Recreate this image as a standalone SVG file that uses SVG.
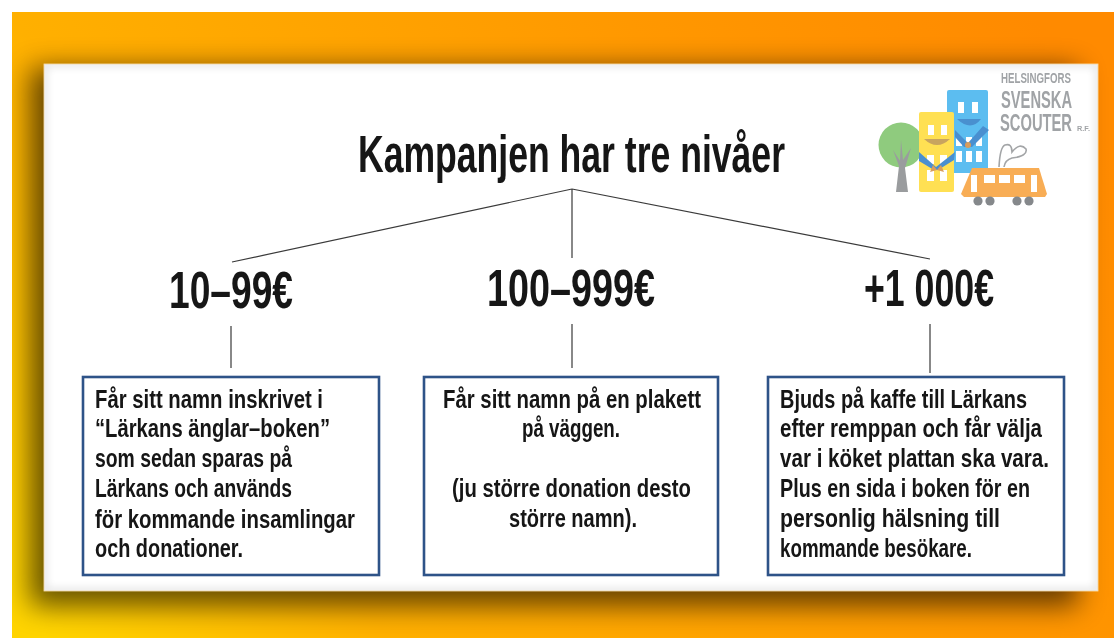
<svg xmlns="http://www.w3.org/2000/svg" width="1114" height="638" viewBox="0 0 1114 638">
<style>
text{font-family:"Liberation Sans Narrow","Liberation Sans",Arial,sans-serif;font-weight:700;fill:#141414;}
.t{font-size:26px;}
.h{font-size:51px;}
.c{stroke:#3a3a3a;stroke-width:1.2;fill:none;}
.b{fill:#fff;stroke:#2f5288;stroke-width:2.6;}
.g{fill:#a0a3a6;}
</style>
<defs>
<linearGradient id="bg" gradientUnits="userSpaceOnUse" x1="60" y1="660" x2="1060" y2="60">
<stop offset="0" stop-color="#ffd400"/><stop offset=".25" stop-color="#ffb000"/><stop offset=".7" stop-color="#ff9800"/><stop offset="1" stop-color="#ff8a00"/>
</linearGradient>
<filter id="sh" filterUnits="userSpaceOnUse" x="0" y="0" width="1114" height="638"><feGaussianBlur stdDeviation="14"/></filter>
<filter id="in" filterUnits="userSpaceOnUse" x="0" y="0" width="1114" height="638"><feGaussianBlur stdDeviation="4"/></filter>
<filter id="bl" filterUnits="userSpaceOnUse" x="0" y="0" width="1114" height="638"><feGaussianBlur stdDeviation="0.7"/></filter>
<filter id="s1" filterUnits="userSpaceOnUse" x="0" y="0" width="1114" height="638"><feGaussianBlur stdDeviation="0.45"/></filter>
<clipPath id="cc"><rect x="44" y="64" width="1054" height="527"/></clipPath>
<clipPath id="pg"><rect x="12" y="12" width="1102" height="626"/></clipPath>
</defs>
<rect width="1114" height="638" fill="#fff"/>
<rect x="12" y="12" width="1102" height="626" fill="url(#bg)"/>
<g id="card">
<g clip-path="url(#pg)"><rect x="30" y="68" width="1048" height="538" fill="#000" opacity=".6" filter="url(#sh)"/></g>
<rect x="44" y="64" width="1054" height="527" fill="#fff" stroke="#ffe3b0" stroke-width=".8"/>
<g clip-path="url(#cc)"><rect x="44" y="64" width="1054" height="527" fill="none" stroke="#000" stroke-width="4" opacity=".16" filter="url(#in)"/></g>
</g>
<g id="logo" filter="url(#bl)">
<circle cx="901" cy="145" r="22.5" fill="#8fcb7e"/>
<path d="M896 192L899 166L893 150L900 161L901 140L903 160L911 148L905 168L908 192Z" fill="#9a9c9e"/>
<rect x="947" y="90" width="41" height="83" rx="2" fill="#5cbdf0"/>
<rect x="919" y="112" width="35" height="80" rx="2" fill="#ffe053"/>
<g fill="#fff">
<rect x="958" y="102" width="6" height="11"/><rect x="972" y="102" width="6" height="11"/>
<rect x="956" y="137" width="6" height="9"/><rect x="966" y="137" width="6" height="9"/><rect x="976" y="137" width="6" height="9"/>
<rect x="956" y="151" width="6" height="11"/><rect x="966" y="151" width="6" height="11"/><rect x="976" y="151" width="6" height="11"/>
<rect x="928" y="125" width="6" height="10"/><rect x="941" y="125" width="6" height="10"/>
<rect x="927" y="155" width="7" height="9"/><rect x="940" y="155" width="7" height="9"/>
<rect x="927" y="170" width="7" height="11"/><rect x="940" y="170" width="7" height="11"/>
</g>
<path d="M957 119Q971 132 981 119Z" fill="#4a90cf"/>
<path d="M924 139Q937 151 950 139Z" fill="#c8a45f"/>
<path d="M955 130L968 143L983 126L989 130L972 147L964 147L955 137Z" fill="#4a8fd0"/>
<circle cx="968" cy="145" r="3" fill="#d99d5b"/>
<path d="M919 152L936 167L955 152L954 160L938 170L934 170L919 161Z" fill="#4a8fd0"/>
<path d="M933 165L937 170L941 165L944 172L937 170L930 172Z" fill="#d99d5b"/>
<path d="M999 167Q1000 147 1005 145Q1012 143 1012 152Q1020 142 1026 149Q1028 156 1012 158Q1005 160 1004 167" fill="none" stroke="#a3a5a7" stroke-width="1.6"/>
<path d="M972 168H1039L1047 194L1045 197H964L961 194Z" fill="#f8ad55"/>
<g fill="#fff">
<rect x="971" y="175" width="6" height="17"/><rect x="984" y="175" width="11" height="8"/><rect x="999" y="175" width="11" height="8"/><rect x="1014" y="175" width="11" height="8"/><rect x="1031" y="175" width="6" height="17"/>
</g>
<g fill="#85888b"><circle cx="978" cy="201" r="4.6"/><circle cx="990" cy="201" r="4.6"/><circle cx="1017" cy="201" r="4.6"/><circle cx="1029" cy="201" r="4.6"/></g>
</g>
<g id="logo-text" filter="url(#s1)">
<text class="g" x="1001" y="83" font-size="14" textLength="70" lengthAdjust="spacingAndGlyphs">HELSINGFORS</text>
<text class="g" x="1001" y="108" font-size="23" textLength="71" lengthAdjust="spacingAndGlyphs">SVENSKA</text>
<text class="g" x="1000" y="131" font-size="23" textLength="72" lengthAdjust="spacingAndGlyphs">SCOUTER</text>
<text class="g" x="1077" y="131" font-size="7" textLength="13" lengthAdjust="spacingAndGlyphs">R.F.</text>
</g>
<g id="connectors">
<path class="c" d="M572 189L232 262M572 189V258M572 189L930 259"/>
<path class="c" d="M231 326V368M572 324V368M930 324V373"/>
</g>
<g filter="url(#s1)">
<g id="title"><text class="h" x="358" y="172" textLength="427" lengthAdjust="spacingAndGlyphs">Kampanjen har tre nivåer</text></g>
<g id="level-1"><text class="h" x="169" y="308" textLength="124" lengthAdjust="spacingAndGlyphs">10–99€</text></g>
<g id="level-2"><text class="h" x="487" y="306" textLength="168" lengthAdjust="spacingAndGlyphs">100–999€</text></g>
<g id="level-3"><text class="h" x="864" y="306" textLength="130" lengthAdjust="spacingAndGlyphs">+1 000€</text></g>
<g id="box-1">
<rect class="b" x="83" y="377" width="296" height="198"/>
<text class="t" x="95" y="408" textLength="228" lengthAdjust="spacingAndGlyphs">Får sitt namn inskrivet i</text>
<text class="t" x="95" y="437" textLength="235" lengthAdjust="spacingAndGlyphs">“Lärkans änglar–boken”</text>
<text class="t" x="95" y="467" textLength="197" lengthAdjust="spacingAndGlyphs">som sedan sparas på</text>
<text class="t" x="95" y="497" textLength="197" lengthAdjust="spacingAndGlyphs">Lärkans och används</text>
<text class="t" x="95" y="528" textLength="260" lengthAdjust="spacingAndGlyphs">för kommande insamlingar</text>
<text class="t" x="95" y="557" textLength="148" lengthAdjust="spacingAndGlyphs">och donationer.</text>
</g>
<g id="box-2">
<rect class="b" x="424" y="377" width="294" height="198"/>
<text class="t" x="443" y="408" textLength="258" lengthAdjust="spacingAndGlyphs">Får sitt namn på en plakett</text>
<text class="t" x="522" y="437" textLength="98" lengthAdjust="spacingAndGlyphs">på väggen.</text>
<text class="t" x="452" y="497" textLength="239" lengthAdjust="spacingAndGlyphs">(ju större donation desto</text>
<text class="t" x="509" y="527" textLength="128" lengthAdjust="spacingAndGlyphs">större namn).</text>
</g>
<g id="box-3">
<rect class="b" x="768" y="377" width="296" height="198"/>
<text class="t" x="780" y="408" textLength="247" lengthAdjust="spacingAndGlyphs">Bjuds på kaffe till Lärkans</text>
<text class="t" x="780" y="437" textLength="262" lengthAdjust="spacingAndGlyphs">efter remppan och får välja</text>
<text class="t" x="780" y="467" textLength="269" lengthAdjust="spacingAndGlyphs">var i köket plattan ska vara.</text>
<text class="t" x="780" y="497" textLength="250" lengthAdjust="spacingAndGlyphs">Plus en sida i boken för en</text>
<text class="t" x="780" y="527" textLength="220" lengthAdjust="spacingAndGlyphs">personlig hälsning till</text>
<text class="t" x="780" y="557" textLength="192" lengthAdjust="spacingAndGlyphs">kommande besökare.</text>
</g>
</g>
</svg>
